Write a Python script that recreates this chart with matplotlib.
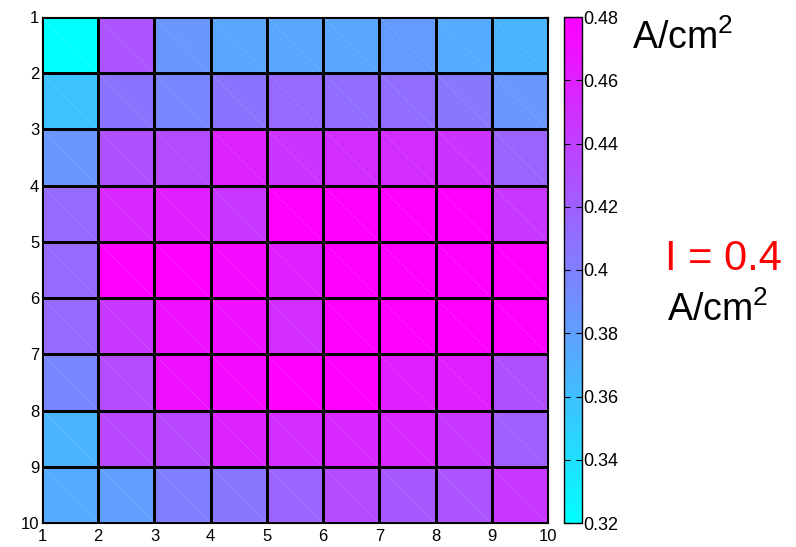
import matplotlib
matplotlib.use('Agg')
import matplotlib.pyplot as plt
import numpy as np

plt.rcParams['font.family'] = ['Liberation Sans', 'DejaVu Sans']
plt.rcParams['mathtext.fontset'] = 'custom'
plt.rcParams['mathtext.rm'] = 'Liberation Sans'
plt.rcParams['mathtext.it'] = 'Liberation Sans:italic'

# current density map, rows = y index 1..9, cols = x index 1..9 (A/cm^2)
row1 = [0.320, 0.427, 0.386, 0.376, 0.376, 0.376, 0.383, 0.373, 0.367]
row2 = [0.358, 0.408, 0.395, 0.408, 0.414, 0.411, 0.411, 0.405, 0.386]
row3 = [0.386, 0.430, 0.433, 0.458, 0.448, 0.452, 0.452, 0.448, 0.417]
row4 = [0.414, 0.455, 0.461, 0.445, 0.480, 0.480, 0.480, 0.480, 0.445]
row5 = [0.414, 0.480, 0.480, 0.474, 0.461, 0.480, 0.480, 0.480, 0.480]
row6 = [0.414, 0.445, 0.470, 0.470, 0.452, 0.480, 0.480, 0.480, 0.480]
row7 = [0.395, 0.433, 0.470, 0.474, 0.480, 0.480, 0.461, 0.461, 0.430]
row8 = [0.367, 0.436, 0.436, 0.458, 0.452, 0.455, 0.455, 0.445, 0.420]
row9 = [0.373, 0.380, 0.400, 0.405, 0.417, 0.433, 0.425, 0.427, 0.445]
J = np.array([row1, row2, row3, row4, row5, row6, row7, row8, row9])

xg = np.arange(1, 11)
yg = np.arange(1, 11)
cticks = np.round(np.arange(0.32, 0.481, 0.02), 2)
I_applied = 0.4

fig = plt.figure(figsize=(7.96, 5.47), dpi=100)
ax = fig.add_axes([42/796, 1-523/547, 506/796, 506/547])

mesh = ax.pcolormesh(xg, yg, J, cmap='cool', vmin=0.32, vmax=0.48,
                     edgecolors='black', linewidth=0.8)

# faint triangle seams inside every cell
for i in xg[:-1]:
    for j in yg[:-1]:
        ax.plot([i, i+1], [j, j+1], color='white', lw=0.6, alpha=0.25,
                linestyle=(0, (1, 1)))

ax.set_xlim(1, 10)
ax.set_ylim(10, 1)
ax.set_xticks(xg)
ax.set_yticks(yg)
ax.tick_params(direction='in', length=4, labelsize=12, top=True, right=True)
ax.tick_params(axis='x', pad=4)
ax.tick_params(axis='y', pad=2)
for s in ax.spines.values():
    s.set_linewidth(0.8)

cax = fig.add_axes([564/796, 1-523/547, 18/796, 506/547])
cb = fig.colorbar(mesh, cax=cax, ticks=cticks)
cb.ax.set_yticklabels(['%g' % t for t in cticks])
cax.tick_params(axis='y', direction='in', length=4, left=True, right=True,
                labelsize=13, pad=1)
cb.outline.set_linewidth(1.0)

fig.text(632/796, 1-49/547, r'A/cm$^{\mathrm{2}}$', fontsize=27,
         ha='left', va='baseline')
fig.text(665/796, 1-270/547, 'I = %g' % I_applied, fontsize=30, color='red',
         ha='left', va='baseline')
fig.text(667/796, 1-321/547, r'A/cm$^{\mathrm{2}}$', fontsize=27,
         ha='left', va='baseline')

plt.savefig('out.png', dpi=100)
